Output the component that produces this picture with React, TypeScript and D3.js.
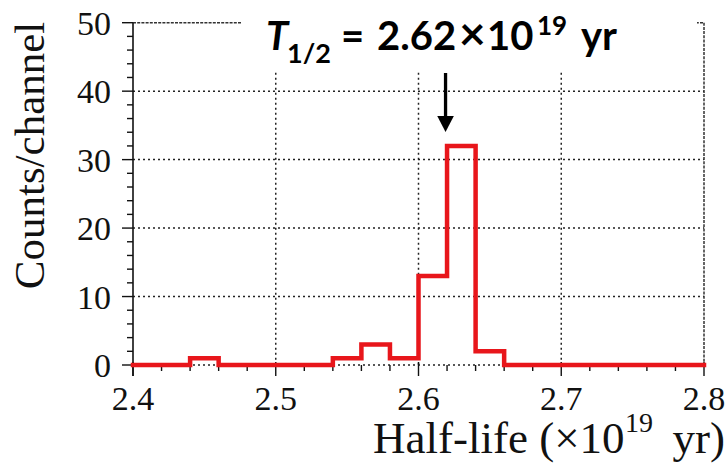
import React from "react";
import * as d3 from "d3";

// Histogram of fitted half-life values, bin width 0.02 (×10^19 yr)
const binStarts = [2.40, 2.42, 2.44, 2.46, 2.48, 2.50, 2.52, 2.54, 2.56, 2.58, 2.60, 2.62, 2.64, 2.66, 2.68, 2.70, 2.72, 2.74, 2.76, 2.78];
const binCounts = [0, 0, 1, 0, 0, 0, 0, 1, 3, 1, 13, 32, 2, 0, 0, 0, 0, 0, 0, 0];
const binWidth = 0.02;

const xTicks = [2.4, 2.5, 2.6, 2.7, 2.8];
const xTickLabels = ["2.4", "2.5", "2.6", "2.7", "2.8"];
const yTicks = [0, 10, 20, 30, 40, 50];
const yTickLabels = ["0", "10", "20", "30", "40", "50"];
const halfLife = 2.62;

const W = 728;
const H = 463;

export default function App() {
  const x = d3.scaleLinear().domain([2.4, 2.8]).range([133, 704]);
  const y = d3.scaleLinear().domain([0, 50]).range([365, 22.7]);

  const pts: [number, number][] = binStarts.map((s, i) => [s, binCounts[i]]);
  pts.push([binStarts[binStarts.length - 1] + binWidth, 0]);
  const step = d3
    .line<[number, number]>()
    .x((d) => x(d[0]))
    .y((d) => y(d[1]))
    .curve(d3.curveStepAfter)(pts) as string;

  const minorX = d3.range(0, 21).map((i) => 2.4 + i * 0.02);
  const minorY = d3.range(0, 26).map((i) => i * 2);
  const gridX = xTicks.slice(1, -1);
  const gridY = yTicks.slice(1, -1);

  const serif = "'Liberation Serif', 'Times New Roman', serif";
  const sans = "Lato, 'Open Sans', sans-serif";
  const dot = "2 3";
  const ax = x(halfLife);

  return (
    <svg
      width={W}
      height={H}
      viewBox={`0 0 ${W} ${H}`}
      style={{ position: "absolute", left: 0, top: 0, background: "#fff" }}
    >
      {/* dotted grid */}
      {gridY.map((v) => (
        <line key={"gy" + v} x1={x(2.4)} x2={x(2.8)} y1={y(v)} y2={y(v)} stroke="#222" strokeWidth={1.5} strokeDasharray={dot} />
      ))}
      {gridX.map((v) => (
        <line key={"gx" + v} x1={x(v)} x2={x(v)} y1={y(50)} y2={y(0)} stroke="#222" strokeWidth={1.5} strokeDasharray={dot} />
      ))}

      {/* frame: top and right */}
      <line x1={x(2.4)} x2={x(2.8)} y1={y(50)} y2={y(50)} stroke="#333" strokeWidth={1.5} strokeDasharray="3 1.2" />
      <line x1={x(2.8)} x2={x(2.8)} y1={y(50)} y2={y(0)} stroke="#333" strokeWidth={1.5} strokeDasharray="3 1.2" />
      {/* bottom axis line */}
      <line x1={x(2.4)} x2={x(2.8)} y1={y(0)} y2={y(0)} stroke="#222" strokeWidth={1.5} strokeDasharray={dot} />

      {/* left axis */}
      <line x1={x(2.4)} x2={x(2.4)} y1={y(50)} y2={y(0) + 11} stroke="#111" strokeWidth={1.6} />
      {minorY.map((v) => (
        <line key={"my" + v} x1={x(2.4) - (v % 10 === 0 ? 11 : 6)} x2={x(2.4)} y1={y(v)} y2={y(v)} stroke="#111" strokeWidth={1.4} />
      ))}
      {yTicks.map((v, i) => (
        <text key={"yl" + v} x={111} y={y(v) + 12} textAnchor="end" fontFamily={serif} fontSize={34} fill="#111">
          {yTickLabels[i]}
        </text>
      ))}

      {/* bottom ticks */}
      {minorX.map((v, i) => (
        <line
          key={"mx" + i}
          x1={x(v)}
          x2={x(v)}
          y1={y(0) - (i % 5 === 0 ? 3 : 0)}
          y2={y(0) + (i % 5 === 0 ? 11 : 6)}
          stroke="#111"
          strokeWidth={1.4}
        />
      ))}
      {xTicks.map((v, i) => (
        <text key={"xl" + v} x={x(v)} y={410} textAnchor="middle" fontFamily={serif} fontSize={34} fill="#111">
          {xTickLabels[i]}
        </text>
      ))}

      {/* histogram */}
      <path d={step} fill="none" stroke="#e8161b" strokeWidth={4.5} strokeLinejoin="miter" strokeLinecap="square" />

      {/* title area */}
      <rect x={242} y={0} width={455} height={72} fill="#fff" />
      <g fontFamily={sans} fontWeight={700} fill="#000">
        <text x={266} y={50} fontSize={40} fontStyle="italic">T</text>
        <text x={287} y={63} fontSize={27}>1/2</text>
        <text x={341} y={50} fontSize={40}>=</text>
        <text x={377} y={50} fontSize={40}>2.62</text>
        <text x={459} y={50} fontSize={46}>×</text>
        <text x={487} y={50} fontSize={40}>10</text>
        <text x={537} y={35} fontSize={26}>19</text>
        <text x={581} y={50} fontSize={40}>yr</text>
      </g>

      {/* arrow marking the half-life */}
      <line x1={ax - 1.5} x2={ax - 1.5} y1={73} y2={118} stroke="#000" strokeWidth={3.3} />
      <path d={`M${ax - 1.5 - 8.3},116 L${ax - 1.5 + 8.3},116 L${ax - 1.5},132 Z`} fill="#000" />

      {/* axis titles */}
      <text
        transform={`translate(44,${(23 + 288) / 2}) rotate(-90)`}
        textAnchor="middle"
        fontFamily={serif}
        fontSize={43}
        fill="#111"
      >
        Counts/channel
      </text>
      <g fontFamily={serif} fill="#111">
        <text x={373} y={453} fontSize={45}>{"Half-life (×10"}</text>
        <text x={625} y={432} fontSize={28}>19</text>
        <text x={725} y={453} fontSize={45} textAnchor="end">{"yr)"}</text>
      </g>
    </svg>
  );
}
